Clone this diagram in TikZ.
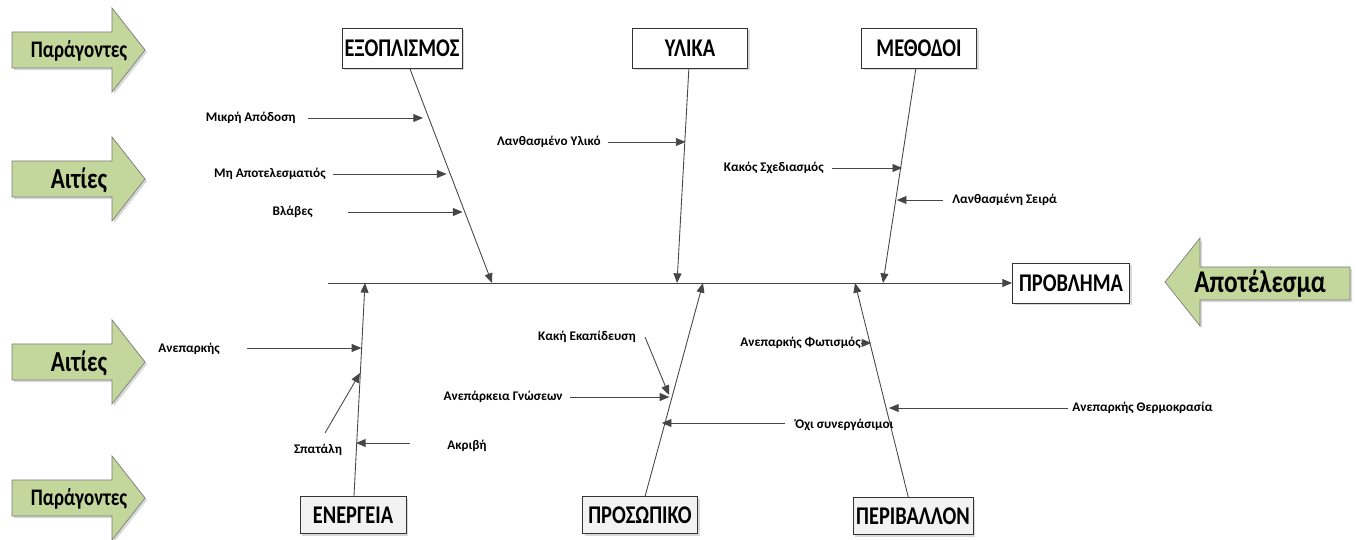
\documentclass[tikz,border=0pt]{standalone}
\usepackage{fontspec}
\setmainfont{Carlito}
\newfontfamily\condfont[FakeStretch=0.8]{Carlito}
\usetikzlibrary{arrows.meta}
\usetikzlibrary{positioning}
\usetikzlibrary{shadows}
\definecolor{bannergreen}{RGB}{195,214,155}
\definecolor{bannerline}{RGB}{125,125,125}
\definecolor{bonegray}{RGB}{70,70,70}
\definecolor{boxgray}{RGB}{242,242,242}
\tikzset{
  >={Triangle[length=5.5pt,width=4.5pt]}, % filled heads as in the sketch
  bone/.style={draw=bonegray,line width=0.5pt},
  bone arrow/.style={bone,->},
  soft shadow/.style={drop shadow={shadow xshift=1.2pt,shadow yshift=-1.2pt,opacity=0.3}},
  cat box/.style={draw=black!80,line width=0.5pt,fill=white,inner sep=0pt,minimum height=0.8cm,
    font=\condfont\bfseries\fontsize{14.5}{16}\selectfont,soft shadow},
  cat top/.style={cat box},
  cat bottom/.style={cat box,fill=boxgray,minimum height=0.74cm},
  cause/.style={font=\bfseries\fontsize{7.5}{9}\selectfont,inner sep=0pt},
  banner/.style={fill=bannergreen,draw=bannerline,line width=0.4pt,soft shadow}
}
% right pointing banner: name, centre y, font size, text
\newcommand{\bannerright}[4]{%
  \draw[banner] (12,#2-18) -- (112,#2-18) -- (112,#2-42) -- (145,#2) -- (112,#2+42) -- (112,#2+18) -- (12,#2+18) -- cycle;
  \node[font=\condfont\bfseries\fontsize{#3}{#3}\selectfont,inner sep=0pt] (#1) at (79,#2+1) {#4}}

\begin{document}
\begin{tikzpicture}[x=0.02cm,y=-0.02cm]
  \useasboundingbox (0,0) rectangle (1356,540);

  % side banners
  \bannerright{factors top}{50}{13.5}{Παράγοντες};
  \bannerright{causes top}{179}{16.5}{Αιτίες};
  \bannerright{causes bottom}{362}{16.5}{Αιτίες};
  \bannerright{factors bottom}{498}{13.5}{Παράγοντες};
  \draw[banner] (1350,267) -- (1200,267) -- (1200,238) -- (1165,282) -- (1200,326) -- (1200,300) -- (1350,300) -- cycle;
  \node[font=\condfont\bfseries\fontsize{18}{18}\selectfont,inner sep=0pt] (result) at (1260,284) {Αποτέλεσμα};

  % category boxes
  \node[cat top,minimum width=2.4cm]     (equip)  at (402,48)  {ΕΞΟΠΛΙΣΜΟΣ};
  \node[cat top,minimum width=2.3cm]     (mat)    at (690,48)  {ΥΛΙΚΑ};
  \node[cat top,minimum width=2.3cm]     (meth)   at (919,48)  {ΜΕΘΟΔΟΙ};
  \node[cat top,minimum width=2.34cm]    (prob)   at (1071,283) {ΠΡΟΒΛΗΜΑ};
  \node[cat bottom,minimum width=2.12cm] (energy) at (353,515) {ΕΝΕΡΓΕΙΑ};
  \node[cat bottom,minimum width=2.3cm]  (staff)  at (640,515) {ΠΡΟΣΩΠΙΚΟ};
  \node[cat bottom,minimum width=2.4cm]  (env)    at (913,516) {ΠΕΡΙΒΑΛΛΟΝ};

  % spine and bones
  \coordinate (tail) at (328,283);
  \coordinate (equip end)  at (492,283);
  \coordinate (mat end)    at (677,283);
  \coordinate (meth end)   at (883,283);
  \coordinate (energy end) at (365,283);
  \coordinate (staff end)  at (703,283);
  \coordinate (env end)    at (855,283);
  \draw[bone arrow] (tail) -- (prob);
  \draw[bone arrow] (equip) -- (equip end);
  \draw[bone arrow] (mat) -- (mat end);
  \draw[bone arrow] (meth) -- (meth end);
  \draw[bone arrow] (energy) -- (energy end);
  \draw[bone arrow] (staff) -- (staff end);
  \draw[bone arrow] (env) -- (env end);

  % causes, equipment
  \node[cause,anchor=east] (low yield) at (296,118) {Μικρή Απόδοση};
  \node[cause,anchor=east] (ineff)     at (326,174) {Μη Αποτελεσματιός};
  \node[cause,anchor=east] (faults)    at (313,212) {Βλάβες};
  \coordinate (s1) at (308,118);   \coordinate (b1) at (423,118);
  \coordinate (s2) at (333,174);   \coordinate (b2) at (446.6,174);
  \coordinate (s3) at (348,212);   \coordinate (b3) at (462.6,212);
  \draw[bone arrow] (s1) -- (b1);
  \draw[bone arrow] (s2) -- (b2);
  \draw[bone arrow] (s3) -- (b3);

  % causes, materials
  \node[cause,anchor=east] (wrong mat) at (601,142) {Λανθασμένο Υλικό};
  \coordinate (s4) at (608,142);   \coordinate (b4) at (685.5,142);
  \draw[bone arrow] (s4) -- (b4);

  % causes, methods
  \node[cause,anchor=east] (bad design) at (824,168) {Κακός Σχεδιασμός};
  \node[cause,anchor=west] (wrong order) at (952,200) {Λανθασμένη Σειρά};
  \coordinate (s5) at (832,168);   \coordinate (b5) at (902.2,168);
  \coordinate (s6) at (943,200);   \coordinate (b6) at (896.8,200);
  \draw[bone arrow] (s5) -- (b5);
  \draw[bone arrow] (s6) -- (b6);

  % causes, energy
  \node[cause,anchor=west] (insuff) at (158,349) {Ανεπαρκής};
  \node[cause]             (waste)  at (318,450) {Σπατάλη};
  \node[cause,anchor=west] (costly) at (447,446) {Ακριβή};
  \coordinate (s7) at (247,348);   \coordinate (b7) at (361.4,348);
  \coordinate (s8) at (325,433);   \coordinate (b8) at (360,373);
  \coordinate (s9) at (410,443);   \coordinate (b9) at (356,443);
  \draw[bone arrow] (s7) -- (b7);
  \draw[bone arrow] (s8) -- (b8);
  \draw[bone arrow] (s9) -- (b9);

  % causes, staff
  \node[cause,anchor=east] (training) at (636,337) {Κακή Εκαπίδευση};
  \node[cause,anchor=east] (knowledge) at (563,397) {Ανεπάρκεια Γνώσεων};
  \node[cause,anchor=west] (uncoop) at (795,425) {Όχι συνεργάσιμοι};
  \coordinate (s10) at (645,337);  \coordinate (b10) at (669,395);
  \coordinate (s11) at (570,397);  \coordinate (b11) at (669.4,397);
  \coordinate (s12) at (785,423);  \coordinate (b12) at (661.8,423);
  \draw[bone arrow] (s10) -- (b10);
  \draw[bone arrow] (s11) -- (b11);
  \draw[bone arrow] (s12) -- (b12);

  % causes, environment
  \node[cause,anchor=east] (light) at (861,343) {Ανεπαρκής Φωτισμός};
  \node[cause,anchor=west] (temp)  at (1072,408) {Ανεπαρκής Θερμοκρασία};
  \coordinate (b13) at (871.3,343);
  \coordinate (s14) at (1068,408); \coordinate (b14) at (888.9,408);
  \draw[bone arrow] (light) -- (b13);
  \draw[bone arrow] (s14) -- (b14);
\end{tikzpicture}
\end{document}
